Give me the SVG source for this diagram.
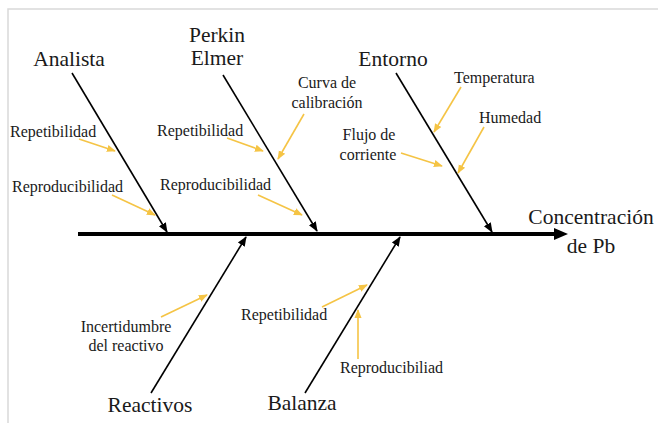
<svg xmlns="http://www.w3.org/2000/svg" width="658" height="423" viewBox="0 0 658 423" font-family="Liberation Serif, DejaVu Serif, serif">
<defs>
<style>
.big{font-size:21.5px;fill:#1a1a1a}
.sm{font-size:16px;fill:#1a1a1a}
.br{stroke:#000;stroke-width:1.6;fill:none}
.ya{stroke:#F5C445;stroke-width:1.6;fill:none}
</style>
<marker id="ah" markerUnits="userSpaceOnUse" markerWidth="10" markerHeight="10" viewBox="0 0 10 10" refX="9" refY="5" orient="auto">
<path d="M0,1 L10,5 L0,9 Z" fill="#000"/>
</marker>
<marker id="ay" markerUnits="userSpaceOnUse" markerWidth="9" markerHeight="9" viewBox="0 0 10 10" refX="9" refY="5" orient="auto">
<path d="M0,1 L10,5 L0,9 Z" fill="#F5C445"/>
</marker>
</defs>
<rect width="658" height="423" fill="#fff"/>
<path d="M8,423 V9 H658" stroke="#d9d9d9" stroke-width="1.5" fill="none"/>

<g id="connectors">
<line x1="78" y1="234" x2="556" y2="234" stroke="#000" stroke-width="4"/>
<polygon points="554,228 568,234 554,240" fill="#000"/>
<line class="br" x1="72" y1="73" x2="167" y2="232" marker-end="url(#ah)"/>
<line class="br" x1="223" y1="75" x2="317" y2="231" marker-end="url(#ah)"/>
<line class="br" x1="396" y1="73" x2="492" y2="232" marker-end="url(#ah)"/>
<line class="br" x1="151" y1="393" x2="246" y2="237" marker-end="url(#ah)"/>
<line class="br" x1="305" y1="393" x2="400" y2="237" marker-end="url(#ah)"/>
<line class="ya" x1="79" y1="139" x2="115" y2="151" marker-end="url(#ay)"/>
<line class="ya" x1="112" y1="195" x2="155" y2="215" marker-end="url(#ay)"/>
<line class="ya" x1="304" y1="114" x2="278" y2="159" marker-end="url(#ay)"/>
<line class="ya" x1="227" y1="138" x2="263" y2="151" marker-end="url(#ay)"/>
<line class="ya" x1="258" y1="195" x2="302" y2="215" marker-end="url(#ay)"/>
<line class="ya" x1="461" y1="87" x2="434" y2="132" marker-end="url(#ay)"/>
<line class="ya" x1="484" y1="127" x2="458" y2="173" marker-end="url(#ay)"/>
<line class="ya" x1="401" y1="153" x2="442" y2="166" marker-end="url(#ay)"/>
<line class="ya" x1="161" y1="317" x2="207" y2="295" marker-end="url(#ay)"/>
<line class="ya" x1="322" y1="307" x2="367" y2="285" marker-end="url(#ay)"/>
<line class="ya" x1="358" y1="359" x2="358" y2="310" marker-end="url(#ay)"/>
</g>

<g id="analista">
<text class="big" x="69" y="66" text-anchor="middle">Analista</text>
<text class="sm" x="10" y="137">Repetibilidad</text>
<text class="sm" x="12" y="192">Reproducibilidad</text>
</g>
<g id="perkin-elmer">
<text class="big" x="217" y="42" text-anchor="middle">Perkin</text>
<text class="big" x="217" y="65" text-anchor="middle">Elmer</text>
<text class="sm" x="327" y="88" text-anchor="middle">Curva de</text>
<text class="sm" x="327" y="108" text-anchor="middle">calibración</text>
<text class="sm" x="157" y="136">Repetibilidad</text>
<text class="sm" x="160" y="190">Reproducibilidad</text>
</g>
<g id="entorno">
<text class="big" x="393" y="66" text-anchor="middle">Entorno</text>
<text class="sm" x="454" y="83">Temperatura</text>
<text class="sm" x="479" y="123">Humedad</text>
<text class="sm" x="369" y="140" text-anchor="middle">Flujo de</text>
<text class="sm" x="368" y="160" text-anchor="middle">corriente</text>
</g>
<g id="efecto">
<text class="big" x="591" y="224" text-anchor="middle">Concentración</text>
<text class="big" x="591" y="253" text-anchor="middle">de Pb</text>
</g>
<g id="reactivos">
<text class="big" x="150" y="412" text-anchor="middle">Reactivos</text>
<text class="sm" x="126" y="332" text-anchor="middle">Incertidumbre</text>
<text class="sm" x="126" y="351" text-anchor="middle">del reactivo</text>
</g>
<g id="balanza">
<text class="big" x="302" y="410" text-anchor="middle">Balanza</text>
<text class="sm" x="241" y="320">Repetibilidad</text>
<text class="sm" x="340" y="373">Reproducibiliad</text>
</g>
</svg>
